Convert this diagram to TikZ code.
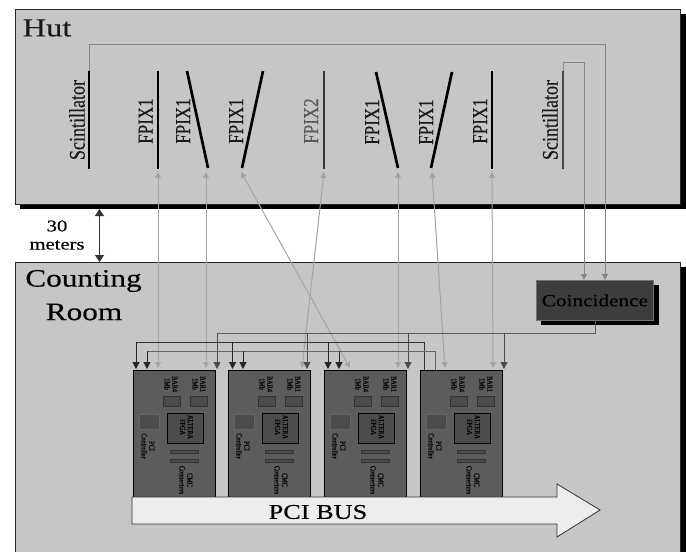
\documentclass[tikz,border=0pt]{standalone}
\usepackage{graphicx}
\usepackage{fontspec}
\setmainfont{Liberation Serif}[FakeBold=0.35]
\usetikzlibrary{arrows.meta,calc}
\definecolor{roomc}{HTML}{C6C6C6}
\definecolor{boardc}{HTML}{5C5C5C}
\definecolor{chipc}{HTML}{4C4C4C}
\definecolor{wirec}{HTML}{858585}
\definecolor{sigc}{HTML}{A4A4A4}
\newcommand{\fz}[1]{\fontsize{#1}{#1}\selectfont}
\newcommand{\wide}[1]{\scalebox{1.25}[1]{#1}}
\newcommand{\vup}[1]{\scalebox{1.25}[1]{\rotatebox{90}{#1}}}
\newcommand{\vdn}[1]{\scalebox{1.25}[1]{\rotatebox{-90}{\begin{tabular}{@{}c@{}}#1\end{tabular}}}}
\tikzset{
  room/.style={draw=black!85,line width=.8pt,fill=roomc},
  shadowbox/.style={fill=black,draw=none},
  det/.style={line width=2.7pt,black},
  detlabel/.style={inner sep=0pt,text=black!90},
  wire/.style={line width=1pt,wirec},
  sig/.style={line width=1pt,sigc,{Triangle[length=6pt,width=6pt]}-{Triangle[length=6pt,width=6pt]}},
  feed/.style={line width=1pt,black!85,-{Triangle[length=7pt,width=7pt]}},
  board/.style={draw=black,line width=.8pt,fill=boardc},
  chip/.style={draw=black!80,line width=.8pt,fill=chipc},
  tiny/.style={inner sep=0pt,text=black,font=\fz{6.2},align=center},
}
\setlength{\tabcolsep}{0pt}
\newcommand{\boardat}[2]{%
 \begin{scope}[shift={(#1,0)}]
  \node[board,minimum width=82pt,minimum height=127pt,inner sep=0pt,anchor=north west] (b#2) at (0,370) {};
  \draw[chip] (30,396) rectangle (47,406);
  \draw[chip] (57,396) rectangle (74,406);
  \draw[chip,draw=black] (34,413) rectangle (70,443);
  \draw[chip,draw=black!60] (6,414) rectangle (26,429);
  \draw[chip] (37,450) rectangle (65,453.5);
  \draw[chip] (37,459) rectangle (65,462.5);
  \node[tiny] at (37,384) {\vdn{BAR4\\1Mb}};
  \node[tiny] at (65,384) {\vdn{BAR1\\1Mb}};
  \node[tiny] at (52.5,427) {\vdn{ALTERA\\FPGA}};
  \node[tiny] at (14,446) {\vdn{PCI\\Controller}};
  \node[tiny] at (52,480) {\vdn{CMC\\Connectors}};
 \end{scope}}
\begin{document}
\begin{tikzpicture}[x=1pt,y=-1pt,line join=miter]
\useasboundingbox (0,0) rectangle (686,552);
\fill[white] (0,0) rectangle (686,552);
% rooms
\fill[shadowbox] (19.5,14) rectangle (686,209);
\node[room,minimum width=665.5pt,minimum height=195pt,inner sep=0pt,anchor=north west] (hut) at (14.5,9) {};
\fill[shadowbox] (19.5,267) rectangle (686,552);
\node[room,minimum width=665pt,minimum height=295pt,inner sep=0pt,anchor=north west] (count) at (14.5,262) {};
\node[inner sep=0pt,text=black!90] (huttxt) at (47,28) {\fz{26}\wide{Hut}};
\node[inner sep=0pt,text=black] (ct1) at (83.5,281) {\fz{25}\wide{Counting}};
\node[inner sep=0pt,text=black] (ct2) at (84,312) {\fz{25}\wide{Room}};
% distance
\coordinate (dtop) at (99.5,209);
\coordinate (dbot) at (99.5,262);
\draw[line width=1pt,black!80,{Triangle[length=7pt,width=9pt]}-{Triangle[length=7pt,width=9pt]}] (dtop) -- (dbot);
\node[inner sep=0pt] (d1) at (57,226) {\fz{16.5}\wide{30}};
\node[inner sep=0pt] (d2) at (57,245) {\fz{16.5}\wide{meters}};
% detectors
\coordinate (s1t) at (89,71); \coordinate (s1b) at (89,169);
\coordinate (f1t) at (158,71); \coordinate (f1b) at (158,169);
\coordinate (f2t) at (187,71); \coordinate (f2b) at (208,168);
\coordinate (f3t) at (263,71); \coordinate (f3b) at (242,168);
\coordinate (f4t) at (324,71); \coordinate (f4b) at (324,169);
\coordinate (f5t) at (376,72); \coordinate (f5b) at (398,168);
\coordinate (f6t) at (452,72); \coordinate (f6b) at (431,168);
\coordinate (f7t) at (492,71); \coordinate (f7b) at (492,169);
\coordinate (s2t) at (563,71); \coordinate (s2b) at (563,169);
\draw[det] (s1t) -- (s1b);
\draw[det] (f1t) -- (f1b);
\draw[det] (f2t) -- (f2b);
\draw[det] (f3t) -- (f3b);
\draw[det,black!78] (f4t) -- (f4b);
\draw[det] (f5t) -- (f5b);
\draw[det] (f6t) -- (f6b);
\draw[det] (f7t) -- (f7b);
\draw[det,black!72] (s2t) -- (s2b);
\node[detlabel] (l0) at (77,120) {\fz{18}\vup{Scintillator}};
\node[detlabel] (l1) at (145.5,121) {\fz{17}\vup{FPIX1}};
\node[detlabel] (l2) at (183,121) {\fz{17}\vup{FPIX1}};
\node[detlabel] (l3) at (236,121) {\fz{17}\vup{FPIX1}};
\node[detlabel,text=black!65] (l4) at (311,121) {\fz{17}\vup{FPIX2}};
\node[detlabel] (l5) at (372,122) {\fz{17}\vup{FPIX1}};
\node[detlabel] (l6) at (426,122) {\fz{17}\vup{FPIX1}};
\node[detlabel] (l7) at (480,121) {\fz{17}\vup{FPIX1}};
\node[detlabel] (l8) at (550,120) {\fz{18}\vup{Scintillator}};
% coincidence
\fill[black] (541,285) rectangle (659,325);
\node[draw=black!55,line width=.8pt,fill=black!76,minimum width=117pt,minimum height=40pt,inner sep=0pt,anchor=north west,text=black] (coin) at (536,280) {\fz{17}\wide{Coincidence}};
% boards
\boardat{133}{1}
\boardat{228}{2}
\boardat{324}{3}
\boardat{420}{4}
% bus arrow
\draw[black!80,line width=.8pt,fill=black!7] (132,497) -- (557,497) -- (557,484) -- (600,510) -- (557,537) -- (557,524) -- (132,524) -- cycle;
\node[inner sep=0pt] (bus) at (318,512) {\fz{21}\wide{PCI BUS}};
% scintillator wires
\draw[wire,-{Triangle[length=6pt,width=6pt]}] (s1t) -- (89,44) -- (605,44) -- (coin.north -| 605,0);
\draw[wire,-{Triangle[length=6pt,width=6pt]}] (s2t) -- (563,62) -- (584,62) -- (coin.north -| 584,0);
% readout
\foreach \a/\c/\d in {158/158/368,206/206/368,241/350/368,324/302/368,398/398/368,432/445/368,492/493/368}{
  \draw[sig] (\a,172) -- (\c,\d);
}
% control lines
\draw[line width=1pt,wirec!70!black] (coin.south -| 595,0) -- (595,333) -- (217,333);
\foreach \x in {217,307,408,504}{
  \draw[line width=1pt,black!70,-{Triangle[length=7pt,width=7pt]}] (\x,333) -- (\x,369);
}
\draw[line width=1pt,black!80] (424,370) -- (424,342) -- (136,342);
\draw[line width=1pt,black!60] (435,370) -- (435,351) -- (147,351);
\foreach \x in {136,232.6,328}{\draw[feed] (\x,342) -- (\x,369);}
\foreach \x in {147,243,339}{\draw[feed] (\x,351) -- (\x,369);}
\end{tikzpicture}
\end{document}
